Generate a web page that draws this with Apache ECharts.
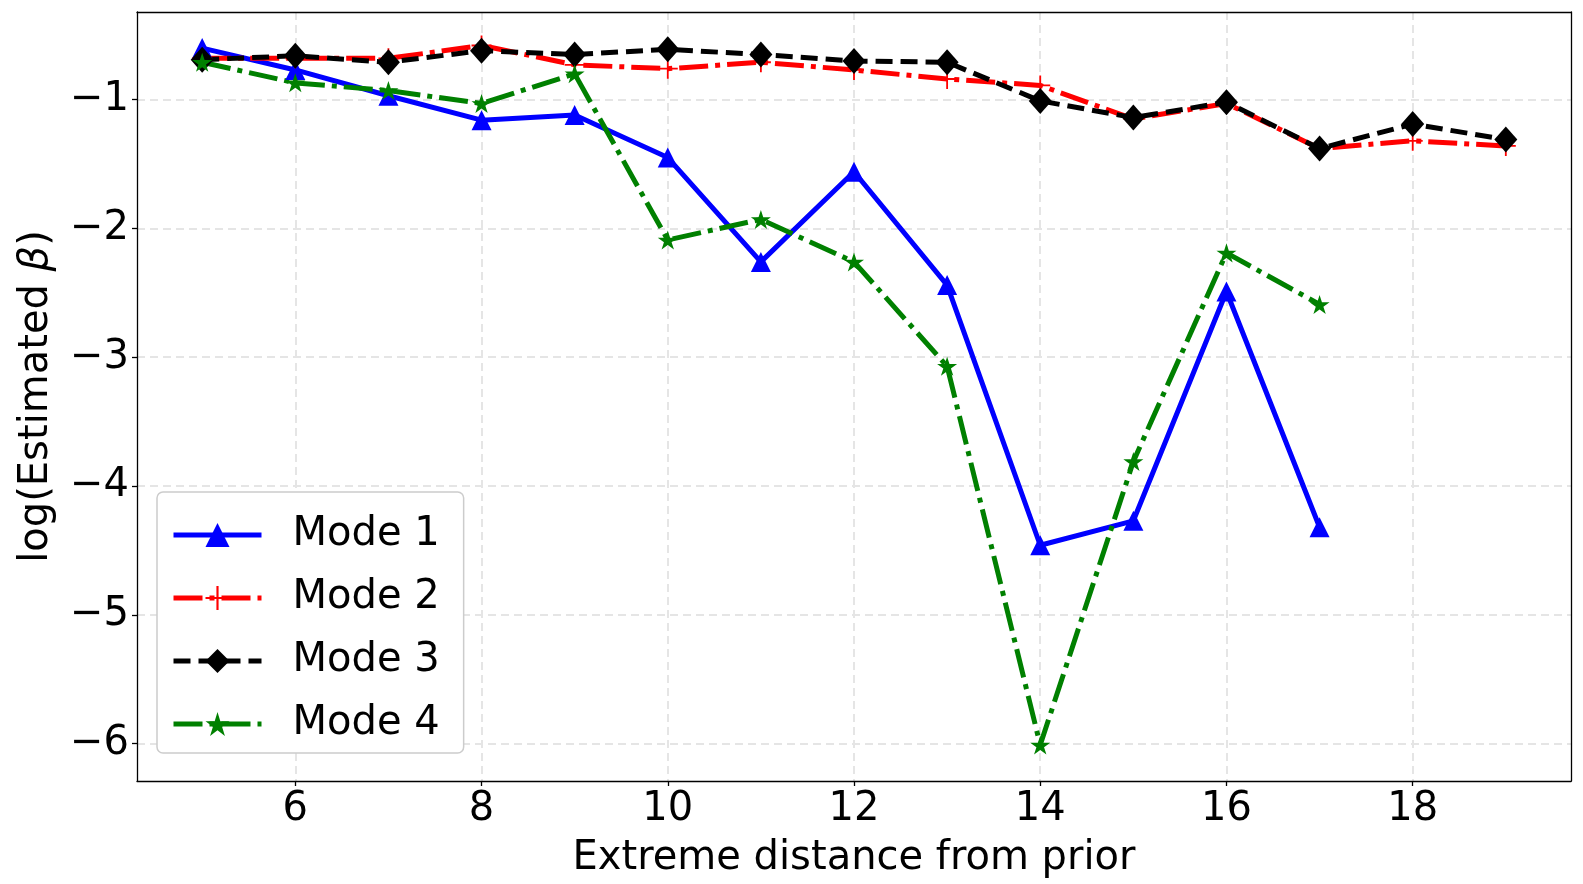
<html>

<head>
    <script src="https://cdn.jsdelivr.net/npm/echarts@6.0.0/dist/echarts.min.js"></script>

    <style>
        body {
            margin: 0
        }
        #chart {
            width: 1583px;
            height: 884px;
        }
    </style>
</head>

<body>
    <div id="chart"></div>

    <script>
        // values
        const distances = [5, 6, 7, 8, 9, 10, 11, 12, 13, 14, 15, 16, 17, 18, 19];
        const mode1 = [-0.60, -0.77, -0.97, -1.16, -1.12, -1.45, -2.26, -1.56, -2.44, -4.46, -4.27, -2.49, -4.32];
        const mode2 = [-0.68, -0.68, -0.68, -0.58, -0.73, -0.76, -0.71, -0.77, -0.84, -0.89, -1.15, -1.03, -1.38, -1.32, -1.36];
        const mode3 = [-0.69, -0.66, -0.71, -0.62, -0.65, -0.61, -0.65, -0.70, -0.71, -1.01, -1.14, -1.02, -1.38, -1.19, -1.31];
        const mode4 = [-0.71, -0.87, -0.93, -1.03, -0.80, -2.09, -1.93, -2.26, -3.07, -6.01, -3.81, -2.19, -2.59];
        const xTicks = [6, 8, 10, 12, 14, 16, 18];
        const yTicks = [-6, -5, -4, -3, -2, -1];

        const chartDom = document.getElementById('chart');
        const myChart = echarts.init(chartDom);

        const font = 'DejaVu Sans';
        const lw = 5;
        const pairs = (ys) => ys.map((y, i) => [distances[i], y]);
        const minus = (v) => String(v).replace('-', '\u2212');

        const plusPath = 'path://M-0.09,-1L0.09,-1L0.09,-0.09L1,-0.09L1,0.09L0.09,0.09L0.09,1L-0.09,1L-0.09,0.09L-1,0.09L-1,-0.09L-0.09,-0.09Z';
        const starPath = 'path://M0,-1L0.2245,-0.309L0.9511,-0.309L0.3633,0.118L0.5878,0.809L0,0.382L-0.5878,0.809L-0.3633,0.118L-0.9511,-0.309L-0.2245,-0.309Z';

        const gridLine = {
            show: true,
            lineStyle: { color: '#e5e5e5', width: 2, type: [8, 5] }
        };

        const line = (name, ys, color, type, symbol, size) => ({
            name: name,
            type: 'line',
            data: pairs(ys),
            symbol: symbol,
            symbolSize: size,
            symbolKeepAspect: true,
            showAllSymbol: true,
            animation: false,
            lineStyle: { color: color, width: lw, type: type },
            itemStyle: { color: color, borderWidth: 0 }
        });

        const option = {
            animation: false,
            grid: { left: 137, right: 12, top: 12, bottom: 103, outerBoundsMode: 'none', containLabel: false },
            legend: {
                orient: 'vertical',
                left: 157,
                top: 492,
                padding: [23, 24, 9, 14],
                itemWidth: 88,
                itemHeight: 30,
                itemGap: 23,
                backgroundColor: '#fff',
                borderColor: '#cccccc',
                borderWidth: 1.5,
                borderRadius: 6,
                lineStyle: { width: lw },
                textStyle: { fontFamily: font, fontSize: 40, color: '#000', lineHeight: 40, padding: [0, 0, 0, 26] },
                data: ['Mode 1', 'Mode 2', 'Mode 3', 'Mode 4']
            },
            xAxis: [{
                type: 'value',
                min: 4.3,
                max: 19.7,
                name: 'Extreme distance from prior',
                nameLocation: 'middle',
                nameGap: 58,
                nameTextStyle: { fontFamily: font, fontSize: 40, color: '#000' },
                axisLine: { show: true, onZero: false, lineStyle: { color: '#000', width: 1.3 } },
                axisTick: { show: true, length: 5, lineStyle: { color: '#000', width: 1.3 }, customValues: xTicks },
                axisLabel: { fontFamily: font, fontSize: 40, color: '#000', margin: 9, customValues: xTicks, formatter: minus },
                splitLine: gridLine
            }, {
                type: 'value',
                position: 'top',
                min: 4.3,
                max: 19.7,
                axisLine: { show: true, onZero: false, lineStyle: { color: '#000', width: 1.3 } },
                axisTick: { show: false },
                axisLabel: { show: false },
                splitLine: { show: false }
            }],
            yAxis: [{
                type: 'value',
                min: -6.29,
                max: -0.32,
                name: 'log(Estimated {b|β})',
                nameLocation: 'middle',
                nameRotate: 90,
                nameGap: 80,
                nameTextStyle: {
                    fontFamily: font, fontSize: 40, color: '#000',
                    rich: { b: { fontFamily: font, fontSize: 40, fontStyle: 'italic', color: '#000' } }
                },
                axisLine: { show: true, onZero: false, lineStyle: { color: '#000', width: 1.3 } },
                axisTick: { show: true, length: 5, lineStyle: { color: '#000', width: 1.3 }, customValues: yTicks },
                axisLabel: { fontFamily: font, fontSize: 40, color: '#000', margin: 8, customValues: yTicks, formatter: minus },
                splitLine: gridLine
            }, {
                type: 'value',
                position: 'right',
                min: -6.29,
                max: -0.32,
                axisLine: { show: true, onZero: false, lineStyle: { color: '#000', width: 1.3 } },
                axisTick: { show: false },
                axisLabel: { show: false },
                splitLine: { show: false }
            }],
            series: [
                line('Mode 1', mode1, '#0000ff', 'solid', 'triangle', 20),
                line('Mode 2', mode2, '#ff0000', [29, 7, 5, 7], plusPath, 20),
                line('Mode 3', mode3, '#000000', [17, 8], 'diamond', [23, 26]),
                line('Mode 4', mode4, '#008000', [29, 7, 5, 7], starPath, 20)
            ]
        };

        myChart.setOption(option);
    </script>
</body>

</html>
